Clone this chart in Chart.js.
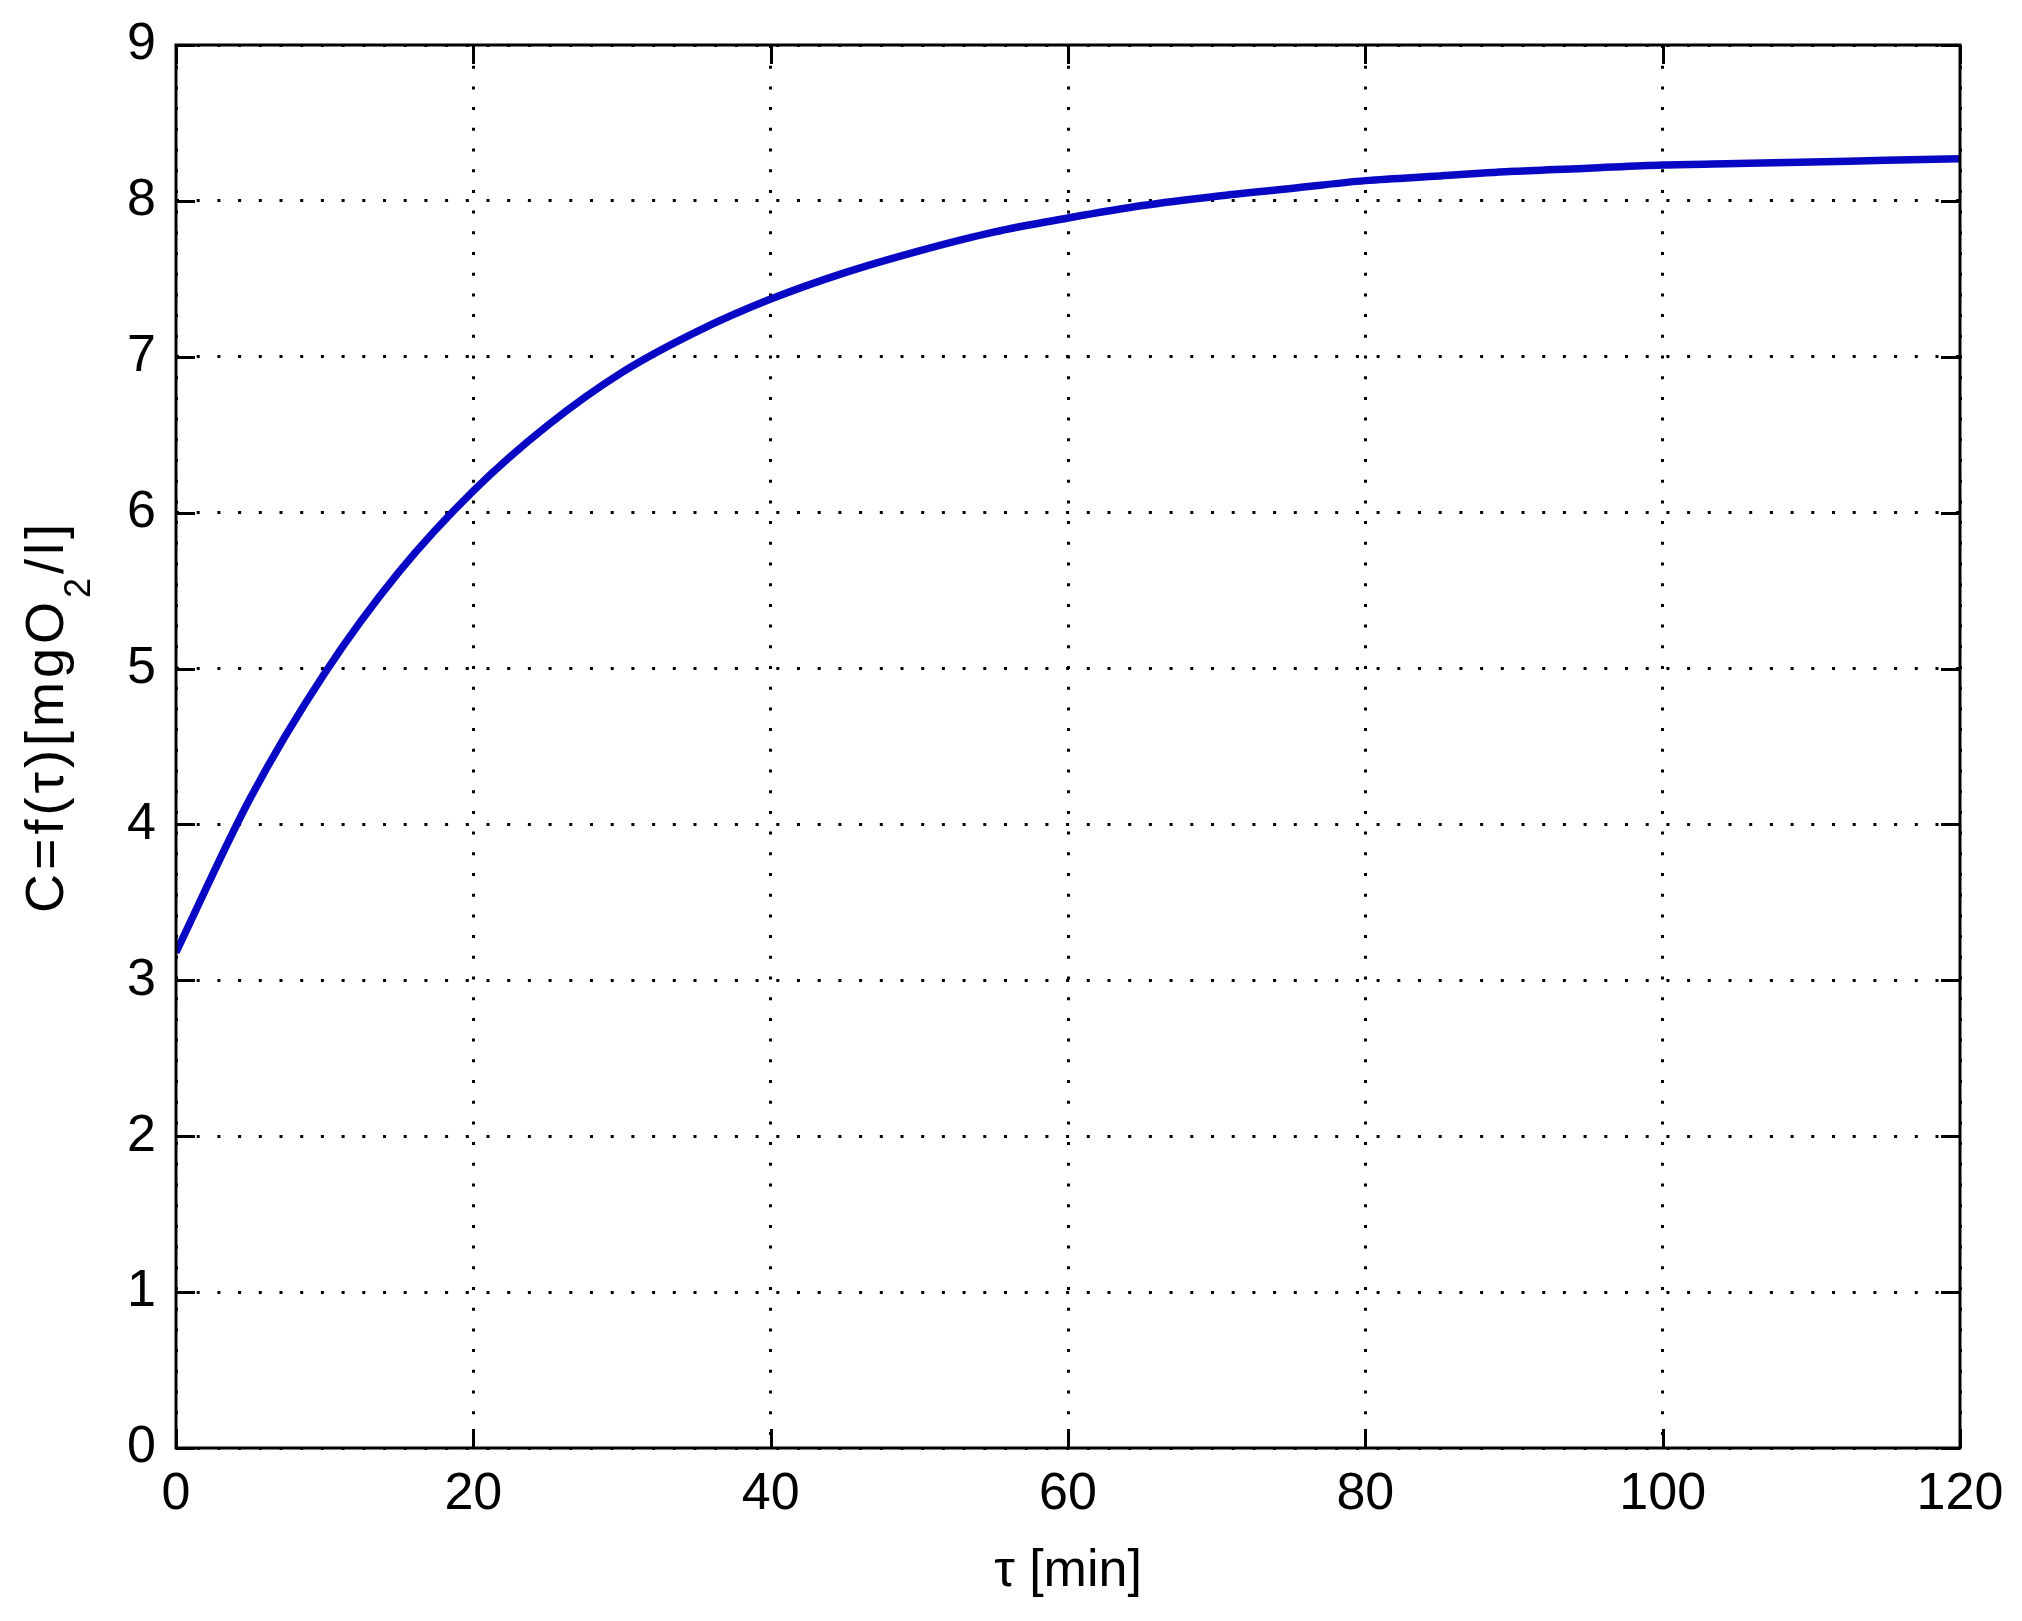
<!DOCTYPE html>
<html>
<head>
<meta charset="utf-8">
<script src="https://cdn.jsdelivr.net/npm/chart.js@4.4.1/dist/chart.umd.min.js"></script>
<style>
  html, body { margin: 0; padding: 0; background: #fff; }
  canvas { display: block; }
</style>
</head>
<body>
<canvas id="chart" width="2022" height="1621"></canvas>
<script>
// time [min] and oxygen concentration
const tau = [0, 5, 10, 15, 20, 25, 30, 35, 40, 45, 50, 55, 60, 65, 70, 75, 80, 85, 90, 95, 100, 105, 110, 115, 120];
const conc = [3.18, 4.17, 4.97, 5.62, 6.14, 6.56, 6.90, 7.16, 7.37, 7.54, 7.68, 7.80, 7.89, 7.97, 8.03, 8.08, 8.13, 8.16, 8.19, 8.21, 8.23, 8.24, 8.25, 8.26, 8.27];
const xTicks = [0, 20, 40, 60, 80, 100, 120];
const yTicks = [0, 1, 2, 3, 4, 5, 6, 7, 8, 9];

const FONT = 'Liberation Sans, Arial, sans-serif';

// box + inward ticks on all four sides, like matlab
const boxPlugin = {
    id: 'box',
    afterDatasetsDraw(chart) {
        const { ctx, chartArea: a, scales } = chart;
        const len = 19;
        ctx.save();
        ctx.strokeStyle = '#000';
        ctx.lineWidth = 3;
        ctx.beginPath();
        xTicks.forEach(v => {
            const x = Math.round(scales.x.getPixelForValue(v)) + 0.5;
            ctx.moveTo(x, a.bottom); ctx.lineTo(x, a.bottom - len);
            ctx.moveTo(x, a.top); ctx.lineTo(x, a.top + len);
        });
        yTicks.forEach(v => {
            const y = Math.round(scales.y.getPixelForValue(v)) + 0.5;
            ctx.moveTo(a.left, y); ctx.lineTo(a.left + len, y);
            ctx.moveTo(a.right, y); ctx.lineTo(a.right - len, y);
        });
        ctx.stroke();
        ctx.strokeRect(a.left, a.top, a.right - a.left, a.bottom - a.top);
        ctx.restore();
    },
    afterDraw(chart) {
        // y axis label with a real subscript
        const { ctx, chartArea: a } = chart;
        const parts = [['C=f(\u03c4)[mgO', 54, 0], ['2', 36, 27], ['/l]', 54, 0]];
        ctx.save();
        ctx.fillStyle = '#000';
        ctx.textBaseline = 'alphabetic';
        ctx.textAlign = 'left';
        ctx.letterSpacing = '4px';
        let w = 0;
        parts.forEach(p => { ctx.font = p[1] + 'px ' + FONT; w += ctx.measureText(p[0]).width; });
        const cy = (a.top + a.bottom) / 2 - 30;
        ctx.translate(63, cy);
        ctx.rotate(-Math.PI / 2);
        let x = -w / 2;
        parts.forEach(p => {
            ctx.font = p[1] + 'px ' + FONT;
            ctx.fillText(p[0], x, p[2]);
            x += ctx.measureText(p[0]).width;
        });
        ctx.restore();
    }
};

const ctx = document.getElementById('chart').getContext('2d');
new Chart(ctx, {
    type: 'line',
    data: {
        datasets: [{
            data: tau.map((t, i) => ({ x: t, y: conc[i] })),
            borderColor: '#0808c4',
            borderWidth: 7.5,
            pointRadius: 0,
            cubicInterpolationMode: 'monotone',
            fill: false
        }]
    },
    options: {
        responsive: false,
        animation: false,
        layout: { padding: { top: 45, right: 62, left: 0, bottom: 0 } },
        plugins: {
            legend: { display: false },
            tooltip: { enabled: false }
        },
        scales: {
            x: {
                type: 'linear',
                min: 0,
                max: 120,
                afterBuildTicks: s => { s.ticks = xTicks.map(v => ({ value: v })); },
                afterFit: s => { s.height = 173; },
                grid: { color: '#000', lineWidth: 3, drawTicks: false },
                border: { display: false, dash: [3, 17.7] },
                ticks: { color: '#000', padding: 15, font: { family: FONT, size: 52 }, maxRotation: 0 },
                title: {
                    display: true,
                    text: '\u03c4 [min]',
                    color: '#000',
                    font: { family: FONT, size: 52, lineHeight: 1.2 },
                    padding: { top: 0, bottom: 18 }
                }
            },
            y: {
                min: 0,
                max: 9,
                afterBuildTicks: s => { s.ticks = yTicks.map(v => ({ value: v })); },
                afterFit: s => { s.width = 176; },
                grid: { color: '#000', lineWidth: 3, drawTicks: false },
                border: { display: false, dash: [3, 17.7] },
                ticks: { color: '#000', padding: 20, font: { family: FONT, size: 52, lineHeight: 0.6 } }
            }
        }
    },
    plugins: [boxPlugin]
});
</script>
</body>
</html>
